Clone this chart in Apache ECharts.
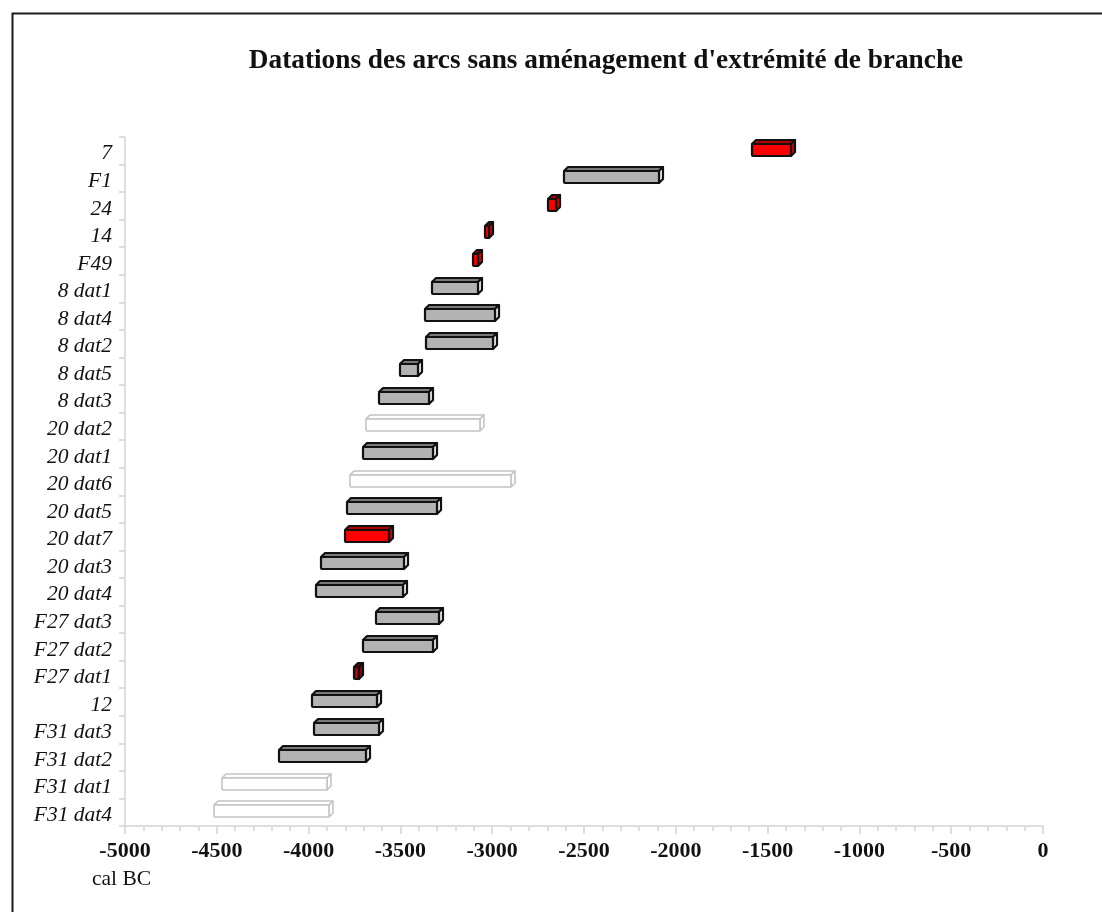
<!DOCTYPE html>
<html>
<head>
<meta charset="utf-8">
<title>Datations des arcs</title>
<script src="https://cdn.jsdelivr.net/npm/echarts@6/dist/echarts.min.js"></script>
<style>
  html, body { margin: 0; padding: 0; background: #ffffff; }
  #chart { width: 1102px; height: 912px; }
</style>
</head>
<body>
<div id="chart"></div>
<script>
// Samples, top to bottom
const categories = [
  '7', 'F1', '24', '14', 'F49',
  '8 dat1', '8 dat4', '8 dat2', '8 dat5', '8 dat3',
  '20 dat2', '20 dat1', '20 dat6', '20 dat5', '20 dat7', '20 dat3', '20 dat4',
  'F27 dat3', 'F27 dat2', 'F27 dat1',
  '12', 'F31 dat3', 'F31 dat2', 'F31 dat1', 'F31 dat4'
];
// Calibrated ranges (cal BC, negative years)
const rangeStart = [
  -1585, -2610, -2695, -3040, -3105,
  -3330, -3365, -3360, -3500, -3615,
  -3685, -3705, -3775, -3790, -3800, -3930, -3960,
  -3635, -3705, -3755,
  -3980, -3970, -4160, -4470, -4515
];
const rangeEnd = [
  -1370, -2090, -2650, -3015, -3075,
  -3080, -2985, -2995, -3405, -3345,
  -3065, -3320, -2900, -3300, -3560, -3480, -3485,
  -3290, -3320, -3725,
  -3625, -3615, -3685, -3900, -3890
];
// Kind of each dating: 'red', 'gray', 'outline' or 'darkred'
const rangeKind = [
  'red', 'gray', 'red', 'red', 'red',
  'gray', 'gray', 'gray', 'gray', 'gray',
  'outline', 'gray', 'outline', 'gray', 'red', 'gray', 'gray',
  'gray', 'gray', 'darkred',
  'gray', 'gray', 'gray', 'outline', 'outline'
];
const xTicks = { min: -5000, max: 0, step: 500 };

const palette = {
  red:     { front: '#ff0000', top: '#b00000', side: '#e00000', stroke: '#111111' },
  darkred: { front: '#c00000', top: '#800000', side: '#a00000', stroke: '#111111' },
  gray:    { front: '#b3b3b3', top: '#7a7a7a', side: '#f2f2f2', stroke: '#111111' },
  outline: { front: '#ffffff', top: '#ffffff', side: '#ffffff', stroke: '#c4c4c4' }
};

const seriesData = categories.map((c, i) => [i, rangeStart[i], rangeEnd[i], rangeKind[i]]);

const DEPTH = 4;

// Draws one range as a 3D box: front face, top face and right face
function renderBox(params, api) {
  const idx = api.value(0);
  const p0 = api.coord([api.value(1), idx]);
  const p1 = api.coord([api.value(2), idx]);
  const kind = rangeKind[params.dataIndex];
  const col = palette[kind];
  const x0 = Math.round(p0[0]);
  const x1 = Math.round(p1[0]);
  const yc = p0[1];
  const yt = Math.round(yc - 7);
  const yb = Math.round(yc + 5);
  const lw = kind === 'outline' ? 1.6 : 2.2;
  const common = { stroke: col.stroke, lineWidth: lw, lineJoin: 'round' };
  return {
    type: 'group',
    children: [
      {
        type: 'polygon',
        shape: { points: [[x0, yt], [x0 + DEPTH, yt - DEPTH], [x1 + DEPTH, yt - DEPTH], [x1, yt]] },
        style: Object.assign({ fill: col.top }, common)
      },
      {
        type: 'polygon',
        shape: { points: [[x1, yt], [x1 + DEPTH, yt - DEPTH], [x1 + DEPTH, yb - DEPTH], [x1, yb]] },
        style: Object.assign({ fill: col.side }, common)
      },
      {
        type: 'rect',
        shape: { x: x0, y: yt, width: Math.max(x1 - x0, 1), height: yb - yt, r: 1 },
        style: Object.assign({ fill: col.front }, common)
      }
    ]
  };
}

const chart = echarts.init(document.getElementById('chart'), null, { renderer: 'canvas' });

const axisGray = '#d4d4d4';

chart.setOption({
  animation: false,
  backgroundColor: '#ffffff',
  grid: { left: 125, right: 59, top: 137, bottom: 86, containLabel: false },
  xAxis: {
    type: 'value',
    min: xTicks.min,
    max: xTicks.max,
    interval: xTicks.step,
    axisLine: { show: true, onZero: false, lineStyle: { color: axisGray, width: 1.5 } },
    axisTick: { show: true, length: 8, lineStyle: { color: axisGray, width: 1.5 } },
    minorTick: { show: true, splitNumber: 5, length: 5, lineStyle: { color: axisGray, width: 1.5 } },
    splitLine: { show: false },
    minorSplitLine: { show: false },
    axisLabel: {
      margin: 14,
      color: '#111111',
      fontFamily: 'Liberation Serif',
      fontWeight: 'bold',
      fontSize: 22,
      formatter: (v) => String(v)
    }
  },
  yAxis: {
    type: 'category',
    data: categories,
    inverse: true,
    boundaryGap: true,
    axisLine: { show: true, onZero: false, lineStyle: { color: axisGray, width: 1.5 } },
    axisTick: { show: true, interval: 0, length: 6, lineStyle: { color: axisGray, width: 1.5 } },
    splitLine: { show: false },
    axisLabel: {
      interval: 0,
      hideOverlap: false,
      margin: 13,
      formatter: (v) => '{name|' + v + '}',
      rich: {
        name: {
          padding: [6, 0, 0, 0],
          color: '#111111',
          fontFamily: 'Liberation Serif',
          fontStyle: 'italic',
          fontSize: 21.5
        }
      }
    }
  },
  series: [{
    type: 'custom',
    renderItem: renderBox,
    encode: { x: [1, 2], y: 0 },
    data: seriesData,
    clip: false
  }],
  graphic: [
    {
      type: 'rect',
      left: 10, top: 11,
      shape: { width: 1120, height: 940 },
      style: { fill: 'none', stroke: '#1a1a1a', lineWidth: 2 },
      z: 10
    },
    {
      type: 'text',
      x: 606, y: 61,
      style: {
        text: "Datations des arcs sans aménagement d'extrémité de branche",
        fontFamily: 'Liberation Serif',
        fontWeight: 'bold',
        fontSize: 27.3,
        fill: '#111111',
        textAlign: 'center',
        textVerticalAlign: 'middle'
      }
    },
    {
      type: 'text',
      x: 92, y: 879,
      style: {
        text: 'cal BC',
        fontFamily: 'Liberation Serif',
        fontSize: 21.5,
        fill: '#111111',
        textAlign: 'left',
        textVerticalAlign: 'middle'
      }
    }
  ]
});
</script>
</body>
</html>
